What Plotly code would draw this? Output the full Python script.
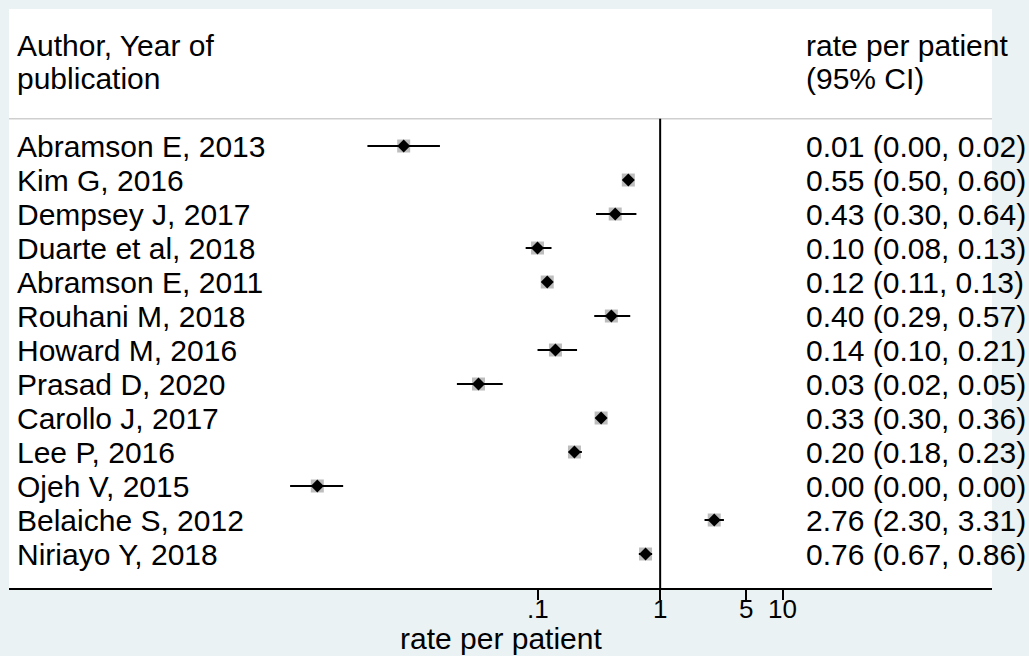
import math
import plotly.graph_objects as go

# Study labels, point estimates and 95% confidence limits (rate per patient)
authors = [
    "Abramson E, 2013", "Kim G, 2016", "Dempsey J, 2017", "Duarte et al, 2018",
    "Abramson E, 2011", "Rouhani M, 2018", "Howard M, 2016", "Prasad D, 2020",
    "Carollo J, 2017", "Lee P, 2016", "Ojeh V, 2015", "Belaiche S, 2012",
    "Niriayo Y, 2018",
]
rate = [0.0081, 0.55, 0.43, 0.10, 0.12, 0.40, 0.14, 0.033, 0.33, 0.20, 0.0016, 2.76, 0.76]
ci_low = [0.0041, 0.50, 0.30, 0.08, 0.11, 0.29, 0.10, 0.022, 0.30, 0.18, 0.00096, 2.30, 0.67]
ci_high = [0.016, 0.60, 0.64, 0.13, 0.13, 0.57, 0.21, 0.052, 0.36, 0.23, 0.0026, 3.31, 0.86]

tick_vals = [0.1, 1, 5, 10]
tick_text = [".1", "1", "5", "10"]

FONT = "Liberation Sans, Arial, sans-serif"
FS = 30
TICK_FS = 26
BG = "#eaf2f3"

rows = list(range(len(authors)))

fig = go.Figure()

# grey weight boxes
fig.add_trace(go.Scatter(
    x=rate, y=rows, mode="markers",
    marker=dict(symbol="square", size=13, color="#bdbdbd", line=dict(width=0)),
    hoverinfo="skip", showlegend=False,
))

# confidence interval segments
cx, cy = [], []
for lo, hi, r in zip(ci_low, ci_high, rows):
    cx += [lo, hi, None]
    cy += [r, r, None]
fig.add_trace(go.Scatter(
    x=cx, y=cy, mode="lines", line=dict(color="black", width=2),
    hoverinfo="skip", showlegend=False,
))

# point estimates
fig.add_trace(go.Scatter(
    x=rate, y=rows, mode="markers",
    marker=dict(symbol="diamond", size=10, color="black", line=dict(width=0)),
    showlegend=False,
))

# study labels and estimate text
for a, r, lo, hi, i in zip(authors, rate, ci_low, ci_high, rows):
    fig.add_annotation(x=0.006, xref="paper", y=i, yref="y", text=a,
                       showarrow=False, xanchor="left", yanchor="middle",
                       font=dict(family=FONT, size=FS, color="black"))
    fig.add_annotation(x=0.8088, xref="paper", y=i, yref="y",
                       text=f"{r:.2f} ({lo:.2f}, {hi:.2f})",
                       showarrow=False, xanchor="left", yanchor="middle",
                       font=dict(family=FONT, size=FS, color="black"))

# column headers
for txt, yy in [("Author, Year of", -2.97), ("publication", -2.0)]:
    fig.add_annotation(x=0.006, xref="paper", y=yy, yref="y", text=txt,
                       showarrow=False, xanchor="left", yanchor="middle",
                       font=dict(family=FONT, size=FS, color="black"))
for txt, yy in [("rate per patient", -2.97), ("(95% CI)", -2.0)]:
    fig.add_annotation(x=0.8088, xref="paper", y=yy, yref="y", text=txt,
                       showarrow=False, xanchor="left", yanchor="middle",
                       font=dict(family=FONT, size=FS, color="black"))

# x tick labels placed just under the tick marks (log axis: annotation x in log10 units)
for tv, tt in zip(tick_vals, tick_text):
    fig.add_annotation(x=math.log10(tv), xref="x", y=-0.037, yref="paper", text=tt,
                       showarrow=False, xanchor="center", yanchor="middle",
                       font=dict(family=FONT, size=TICK_FS, color="black"))

# axis title
fig.add_annotation(x=0.5, xref="paper", y=-0.088, yref="paper",
                   text="rate per patient", showarrow=False,
                   xanchor="center", yanchor="middle",
                   font=dict(family=FONT, size=FS, color="black"))

# header separator and null line
fig.add_shape(type="line", xref="paper", yref="y", x0=0, x1=1, y0=-0.8, y1=-0.8,
              line=dict(color="#cfcfcf", width=1.5))
fig.add_shape(type="line", xref="x", yref="y", x0=1, x1=1, y0=-0.8, y1=13,
              line=dict(color="black", width=2))

fig.update_xaxes(
    type="log", range=[-5.31, 2.706],
    tickmode="array", tickvals=tick_vals, ticktext=tick_text,
    showticklabels=False,
    ticks="outside", ticklen=10, tickwidth=1.5, tickcolor="black",
    showline=True, linecolor="black", linewidth=1.5,
    showgrid=False, zeroline=False,
)
fig.update_yaxes(
    range=[13, -4.03], showgrid=False, zeroline=False,
    showticklabels=False, showline=False, ticks="",
)

fig.update_layout(
    width=1029, height=656,
    margin=dict(l=9, r=37, t=9, b=68, pad=0),
    paper_bgcolor=BG, plot_bgcolor="white",
    font=dict(family=FONT, size=FS, color="black"),
)

fig.write_html("out.html")
